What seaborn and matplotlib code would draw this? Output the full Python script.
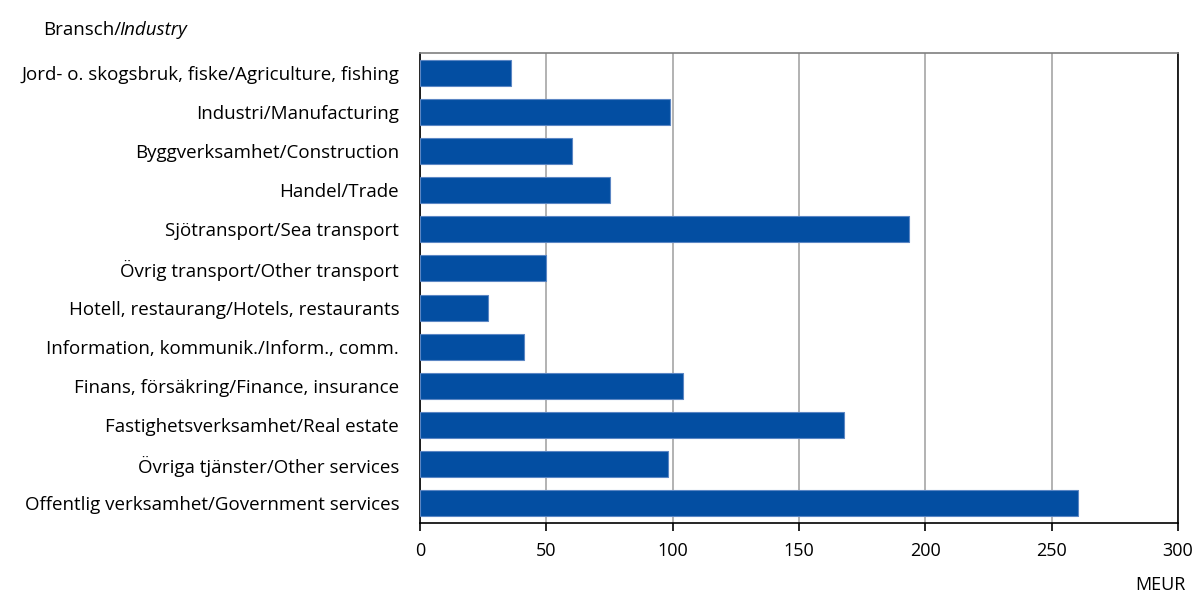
import matplotlib
matplotlib.use("Agg")
import matplotlib.pyplot as plt
import seaborn as sns
import pandas as pd

# Data
industries = [
    "Jord- o. skogsbruk, fiske/Agriculture, fishing",
    "Industri/Manufacturing",
    "Byggverksamhet/Construction",
    "Handel/Trade",
    "Sjötransport/Sea transport",
    "Övrig transport/Other transport",
    "Hotell, restaurang/Hotels, restaurants",
    "Information, kommunik./Inform., comm.",
    "Finans, försäkring/Finance, insurance",
    "Fastighetsverksamhet/Real estate",
    "Övriga tjänster/Other services",
    "Offentlig verksamhet/Government services",
]
meur = [36, 99, 60, 75, 193.5, 50, 27, 41, 104, 167.7, 98, 260.6]
x_ticks = [0, 50, 100, 150, 200, 250, 300]

df = pd.DataFrame({"industry": industries, "meur": meur})

sns.set_theme(style="white")
plt.rcParams['font.family'] = ['Open Sans', 'DejaVu Sans']
plt.rcParams['text.color'] = 'black'
plt.rcParams['xtick.color'] = 'black'
plt.rcParams['ytick.color'] = 'black'

fig = plt.figure(figsize=(11.97, 5.95), dpi=100)
ax = fig.add_axes([420 / 1197, 1 - 523 / 595, 758 / 1197, 470 / 595])

sns.barplot(data=df, y="industry", x="meur", orient="h", color="#034EA2",
            saturation=1, width=0.66, edgecolor="#5b86c4", linewidth=0.8,
            ax=ax, zorder=3)

ax.set_xlim(0, 300)
ax.set_xticks(x_ticks)
ax.xaxis.grid(True, color="#a6a6a6", linewidth=1.2, zorder=0)
ax.yaxis.grid(False)
ax.set_xlabel("")
ax.set_ylabel("")
ax.tick_params(axis="x", which="major", bottom=True, length=6, width=1.2,
               color="black", labelcolor="black", labelsize=13, pad=8)
ax.tick_params(axis="y", left=False, labelcolor="black", labelsize=13.5, pad=9)

for side in ["left", "bottom", "right"]:
    ax.spines[side].set_color("black")
    ax.spines[side].set_linewidth(1.2)
ax.spines["top"].set_color("#7f7f7f")
ax.spines["top"].set_linewidth(1.2)

fig.text(43 / 1197, 1 - 30 / 595, "Bransch/", fontsize=13.5, va="center", ha="left")
fig.text(119 / 1197, 1 - 30 / 595, "Industry", fontsize=13.5, va="center", ha="left", style="italic")
fig.text(1186 / 1197, 1 - 585 / 595, "MEUR", fontsize=13, va="center", ha="right")

fig.savefig("out.png", dpi=100)
